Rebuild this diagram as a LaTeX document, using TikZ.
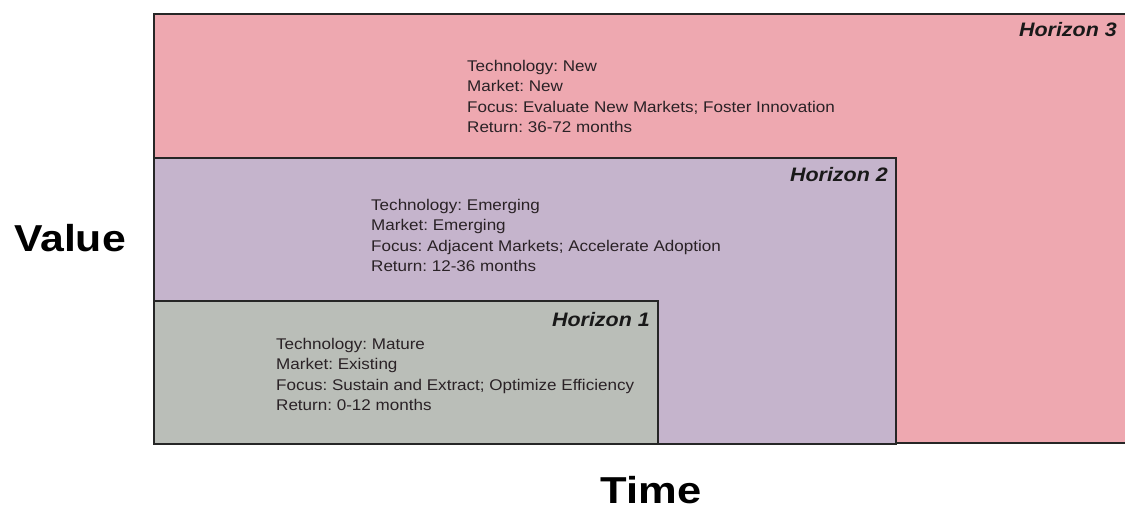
\documentclass[tikz,border=0pt]{standalone}
\usepackage{fontspec}
\setmainfont{Liberation Sans}
\usepackage{graphicx}
\frenchspacing
\definecolor{pinkc}{HTML}{EEA8B0}
\definecolor{purpc}{HTML}{C5B4CC}
\definecolor{grayc}{HTML}{BABEB8}
\definecolor{txtc}{HTML}{2A2226}
\tikzset{
  hbox/.style={draw=black!85, line width=1.6pt, inner sep=0pt, anchor=north west},
  htitle/.style={anchor=base east, inner sep=0pt, font=\fontsize{19.5}{22}\selectfont\bfseries\itshape, text=black!90},
  hbody/.style={anchor=base west, inner sep=0pt, text=txtc, font=\fontsize{15.5}{20.4}\selectfont},
  axis label/.style={inner sep=0pt, font=\fontsize{37.5}{40}\selectfont\bfseries, text=black}
}
\begin{document}
\begin{tikzpicture}[x=1pt,y=-1pt]
\useasboundingbox (0,0) rectangle (1125,510);
\node[hbox, fill=pinkc, minimum width=985pt, minimum height=429pt] (h3) at (153,13) {};
\node[hbox, fill=purpc, minimum width=742pt, minimum height=286pt] (h2) at (153,157) {};
\node[hbox, fill=grayc, minimum width=504pt, minimum height=143pt] (h1) at (153,300) {};
\node[htitle] (t3) at (1117,37) {\scalebox{1.1}[1]{Horizon 3}};
\node[htitle] (t2) at (888,182) {\scalebox{1.1}[1]{Horizon 2}};
\node[htitle] (t1) at (650,327) {\scalebox{1.1}[1]{Horizon 1}};
\node[hbody] (b3) at (467,71.5) {\scalebox{1.1}[1]{\begin{tabular}[t]{@{}l@{}}Technology: New\\Market: New\\Focus: Evaluate New Markets; Foster Innovation\\Return: 36-72 months\end{tabular}}};
\node[hbody] (b2) at (371,210.5) {\scalebox{1.1}[1]{\begin{tabular}[t]{@{}l@{}}Technology: Emerging\\Market: Emerging\\Focus: Adjacent Markets; Accelerate Adoption\\Return: 12-36 months\end{tabular}}};
\node[hbody] (b1) at (276,349.5) {\scalebox{1.1}[1]{\begin{tabular}[t]{@{}l@{}}Technology: Mature\\Market: Existing\\Focus: Sustain and Extract; Optimize Efficiency\\Return: 0-12 months\end{tabular}}};
\node[axis label] (value) at (70,238) {\scalebox{1.14}[1]{Value}};
\node[axis label] (time) at (651,490) {\scalebox{1.16}[1]{Time}};
\end{tikzpicture}
\end{document}
